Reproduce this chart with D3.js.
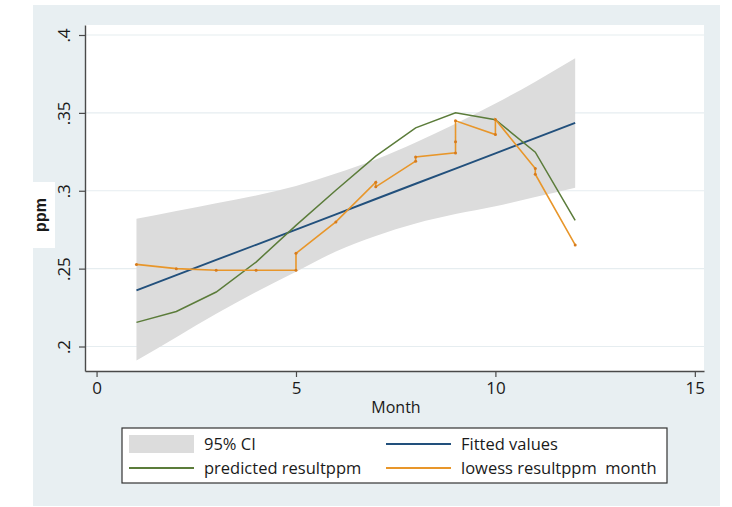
<!DOCTYPE html>
<html>
<head>
<meta charset="utf-8">
<script src="https://cdn.jsdelivr.net/npm/d3@7"></script>
<style>
  body { margin: 0; background: #ffffff; }
  svg text { font-family: "Open Sans", "Liberation Sans", sans-serif; fill: #1a1a1a; }
</style>
</head>
<body>
<div id="chart"></div>
<script>
// chart values
var months = [1, 2, 3, 4, 5, 6, 7, 8, 9, 10, 11, 12];
var ciUpper = [0.282, 0.287, 0.292, 0.297, 0.303, 0.311, 0.320, 0.331, 0.343, 0.356, 0.370, 0.385];
var ciLower = [0.191, 0.206, 0.221, 0.235, 0.248, 0.261, 0.271, 0.279, 0.285, 0.290, 0.296, 0.302];
var fitted = [0.2360, 0.2458, 0.2556, 0.2653, 0.2751, 0.2849, 0.2947, 0.3045, 0.3142, 0.3240, 0.3338, 0.3436];
var predicted = [0.2155, 0.2225, 0.2350, 0.2542, 0.2778, 0.3003, 0.3222, 0.3404, 0.3500, 0.3456, 0.3248, 0.2810];

// lowess line has repeated months (ties)
var lowessMonth = [1, 2, 3, 4, 5, 5, 6, 7, 7, 8, 8, 9, 9, 9, 10, 10, 11, 11, 12];
var lowessValue = [0.2527, 0.2500, 0.2490, 0.2490, 0.2490, 0.2598, 0.2800, 0.3055, 0.3025, 0.3190, 0.3217,
                   0.3243, 0.3314, 0.3449, 0.3361, 0.3458, 0.3143, 0.3106, 0.2652];

var xTicks = [0, 5, 10, 15];
var yTicks = [0.2, 0.25, 0.3, 0.35, 0.4];
var legendLabels = ['95% CI', 'Fitted values', 'predicted resultppm', 'lowess resultppm  month'];

var svgWidth = 732;
var svgHeight = 507;

var colCI = '#dcdcdc';
var colFit = '#22507c';
var colPred = '#5b7c3a';
var colLow = '#e8962a';

// plot region
var plotLeft = 85, plotRight = 704, plotTop = 25, plotBottom = 371;

var svg = d3.select('#chart')
    .append('svg')
    .attr('width', svgWidth)
    .attr('height', svgHeight);

// graph region background
svg.append('rect')
    .attr('x', 33).attr('y', 5)
    .attr('width', 687).attr('height', 501)
    .attr('fill', '#e8eff2');

svg.append('rect')
    .attr('x', plotLeft).attr('y', plotTop)
    .attr('width', plotRight - plotLeft).attr('height', plotBottom - plotTop)
    .attr('fill', '#ffffff');

var x = d3.scaleLinear()
    .domain([-0.29, 15.23])
    .range([plotLeft, plotRight]);

var y = d3.scaleLinear()
    .domain([0.18427, 0.40642])
    .range([plotBottom, plotTop]);

// grid lines
svg.append('g')
    .selectAll('line')
    .data(yTicks)
    .enter()
    .append('line')
    .attr('x1', plotLeft + 1)
    .attr('x2', plotRight)
    .attr('y1', d => y(d))
    .attr('y2', d => y(d))
    .attr('stroke', '#e6edf0')
    .attr('stroke-width', 1.2);

// CI band
var band = months.map((m, i) => ({m: m, lo: ciLower[i], hi: ciUpper[i]}));
svg.append('path')
    .datum(band)
    .attr('fill', colCI)
    .attr('d', d3.area()
        .x(d => x(d.m))
        .y0(d => y(d.lo))
        .y1(d => y(d.hi))
        .curve(d3.curveMonotoneX));

// fitted values
svg.append('path')
    .datum(months.map((m, i) => [m, fitted[i]]))
    .attr('fill', 'none')
    .attr('stroke', colFit)
    .attr('stroke-width', 1.9)
    .attr('d', d3.line().x(d => x(d[0])).y(d => y(d[1])));

// predicted
svg.append('path')
    .datum(months.map((m, i) => [m, predicted[i]]))
    .attr('fill', 'none')
    .attr('stroke', colPred)
    .attr('stroke-width', 1.5)
    .attr('d', d3.line().x(d => x(d[0])).y(d => y(d[1])));

// lowess
var lowess = lowessMonth.map((m, i) => [m, lowessValue[i]]);
svg.append('path')
    .datum(lowess)
    .attr('fill', 'none')
    .attr('stroke', colLow)
    .attr('stroke-width', 1.6)
    .attr('d', d3.line().x(d => x(d[0])).y(d => y(d[1])));

svg.append('g')
    .selectAll('circle')
    .data(lowess)
    .enter()
    .append('circle')
    .attr('cx', d => x(d[0]))
    .attr('cy', d => y(d[1]))
    .attr('r', 1.5)
    .attr('fill', '#d77b1c');

// axes
var xAxis = svg.append('g')
    .attr('transform', `translate(0,${plotBottom})`)
    .call(d3.axisBottom(x).tickValues(xTicks).tickSize(6).tickSizeOuter(0).tickPadding(5));

var yAxis = svg.append('g')
    .attr('transform', `translate(${plotLeft},0)`)
    .call(d3.axisLeft(y).tickValues(yTicks).tickSize(6).tickSizeOuter(0)
        .tickFormat(d => String(d).replace(/^0/, '')));

[xAxis, yAxis].forEach(function(a) {
    a.select('.domain').attr('stroke', '#4a4a4a').attr('stroke-width', 1.4);
    a.selectAll('.tick line').attr('stroke', '#4a4a4a').attr('stroke-width', 1.2);
    a.selectAll('.tick text')
        .style('font-family', '"Open Sans", sans-serif')
        .style('font-size', '17px')
        .attr('fill', '#1a1a1a');
});

yAxis.selectAll('.tick text')
    .attr('transform', 'rotate(-90)')
    .attr('x', 0)
    .attr('y', -15)
    .attr('dy', 0)
    .style('text-anchor', 'middle');

// axis titles
svg.append('text')
    .attr('x', 396)
    .attr('y', 413)
    .attr('text-anchor', 'middle')
    .style('font-size', '16px')
    .text('Month');

svg.append('rect')
    .attr('x', 33).attr('y', 182)
    .attr('width', 22).attr('height', 66)
    .attr('fill', '#ffffff');

svg.append('text')
    .attr('transform', 'translate(46,215) rotate(-90)')
    .attr('text-anchor', 'middle')
    .style('font-size', '16px')
    .style('font-weight', 'bold')
    .style('font-family', '"Liberation Sans", Arial, sans-serif')
    .text('ppm');

// legend
var legend = svg.append('g');
legend.append('rect')
    .attr('x', 122).attr('y', 428)
    .attr('width', 545).attr('height', 55)
    .attr('fill', '#ffffff')
    .attr('stroke', '#333333')
    .attr('stroke-width', 1.2);

var legendItems = [
    {col: 0, row: 0, kind: 'band', color: colCI},
    {col: 1, row: 0, kind: 'line', color: colFit},
    {col: 0, row: 1, kind: 'line', color: colPred},
    {col: 1, row: 1, kind: 'line', color: colLow}
];
var colX = [129, 386];
var rowY = [444, 468];

legendItems.forEach(function(item, i) {
    var lx = colX[item.col];
    var ly = rowY[item.row];
    if (item.kind === 'band') {
        legend.append('rect')
            .attr('x', lx).attr('y', ly - 9)
            .attr('width', 65).attr('height', 18)
            .attr('fill', item.color);
    } else {
        legend.append('line')
            .attr('x1', lx).attr('x2', lx + 65)
            .attr('y1', ly).attr('y2', ly)
            .attr('stroke', item.color)
            .attr('stroke-width', 1.8);
    }
    legend.append('text')
        .attr('x', lx + 75)
        .attr('y', ly + 6)
        .style('font-size', '16.5px')
        .style('white-space', 'pre')
        .text(legendLabels[i]);
});
</script>
</body>
</html>
